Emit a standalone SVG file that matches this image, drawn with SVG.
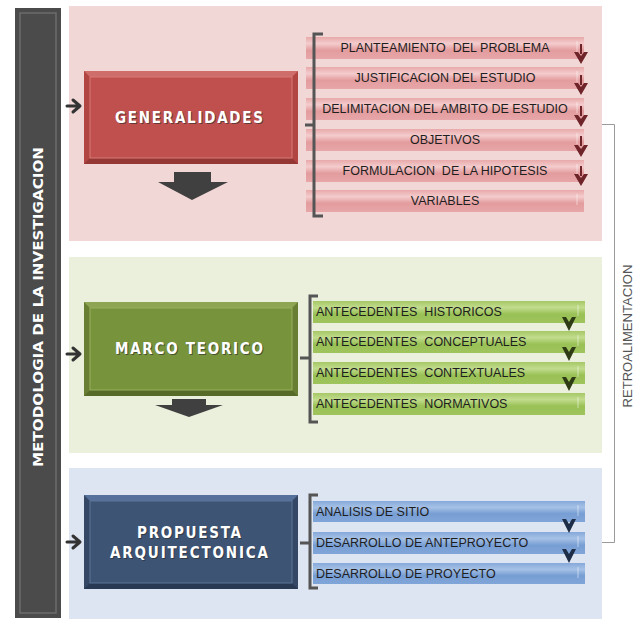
<svg xmlns="http://www.w3.org/2000/svg" width="640" height="619" viewBox="0 0 640 619">
<defs>
<linearGradient id="gPink" x1="0" y1="0" x2="0" y2="1">
<stop offset="0" stop-color="#e8a9aa"/><stop offset="0.3" stop-color="#f4cccd"/><stop offset="0.6" stop-color="#e39c9e"/><stop offset="1" stop-color="#e7a6a8"/>
</linearGradient>
<linearGradient id="gGreen" x1="0" y1="0" x2="0" y2="1">
<stop offset="0" stop-color="#a6c866"/><stop offset="0.3" stop-color="#c2dc8e"/><stop offset="0.6" stop-color="#99c155"/><stop offset="1" stop-color="#9fc45d"/>
</linearGradient>
<linearGradient id="gBlue" x1="0" y1="0" x2="0" y2="1">
<stop offset="0" stop-color="#86a9da"/><stop offset="0.3" stop-color="#a6c1e6"/><stop offset="0.6" stop-color="#779ed4"/><stop offset="1" stop-color="#80a5d8"/>
</linearGradient>
<style>
.item{font-family:"Liberation Sans",Arial,sans-serif;font-size:12.5px;fill:#1e1e1e;white-space:pre}
.c{text-anchor:middle}
.big{font-family:"DejaVu Sans Condensed","DejaVu Sans",sans-serif;font-weight:bold;font-size:15px;fill:#fff;text-anchor:middle}
.sh{fill:#2a2a2a;opacity:0.6}
.brk{fill:none;stroke:#555;stroke-width:3}
.chev{fill:none;stroke:#333;stroke-width:3;stroke-linecap:round;stroke-linejoin:round}
.tick{stroke:#fff;stroke-opacity:0.5;stroke-width:1}
.retro{fill:none;stroke:#9a9a9a;stroke-width:1}
</style>
</defs>
<rect width="640" height="619" fill="#fff"/>

<g id="side-bar">
<rect x="15" y="8" width="46" height="610" fill="#4b4b4b"/>
<rect x="20" y="13" width="36" height="600" fill="none" stroke="#6c6c6c" stroke-width="1.5"/>
<text transform="translate(43,307) rotate(-90)" font-family="'DejaVu Sans','Liberation Sans',sans-serif" font-weight="bold" font-size="14.5" fill="#fff" text-anchor="middle" textLength="320" lengthAdjust="spacingAndGlyphs">METODOLOGIA DE LA INVESTIGACION</text>
</g>

<g id="panels">
<rect x="69" y="6" width="533" height="235" fill="#f2d7d7"/>
<rect x="69" y="257" width="533" height="196" fill="#ebf0dc"/>
<rect x="69" y="468" width="533" height="151" fill="#dce5f1"/>
</g>

<g id="generalidades">
<rect x="84" y="71" width="214" height="93" fill="#b04542"/>
<polygon points="84,71 298,71 292,77 90,77" fill="#cf6d6a"/>
<polygon points="84,164 298,164 292,158 90,158" fill="#953735"/>
<rect x="90" y="77" width="202" height="81" fill="#c0504d" stroke="#d77b78" stroke-width="1"/>
<text class="big sh" x="190" y="124" textLength="148" lengthAdjust="spacing">GENERALIDADES</text>
<text class="big" x="189" y="123" textLength="148" lengthAdjust="spacing">GENERALIDADES</text>
</g>

<g id="marco-teorico">
<rect x="84" y="302" width="214" height="94" fill="#687f33"/>
<polygon points="84,302 298,302 292,308 90,308" fill="#8ea653"/>
<polygon points="84,396 298,396 292,390 90,390" fill="#566b28"/>
<rect x="90" y="308" width="202" height="82" fill="#77933c" stroke="#97b05e" stroke-width="1"/>
<text class="big sh" x="190" y="355" textLength="148" lengthAdjust="spacing">MARCO TEORICO</text>
<text class="big" x="189" y="354" textLength="148" lengthAdjust="spacing">MARCO TEORICO</text>
</g>

<g id="propuesta">
<rect x="84" y="495" width="214" height="94" fill="#344866"/>
<polygon points="84,495 298,495 292,501 90,501" fill="#55709a"/>
<polygon points="84,589 298,589 292,583 90,583" fill="#283954"/>
<rect x="90" y="501" width="202" height="82" fill="#3d5475" stroke="#5d7498" stroke-width="1"/>
<text class="big sh" x="190" y="539" textLength="104" lengthAdjust="spacing">PROPUESTA</text>
<text class="big" x="189" y="538" textLength="104" lengthAdjust="spacing">PROPUESTA</text>
<text class="big sh" x="190" y="559" textLength="158" lengthAdjust="spacing">ARQUITECTONICA</text>
<text class="big" x="189" y="558" textLength="158" lengthAdjust="spacing">ARQUITECTONICA</text>
</g>

<g id="generalidades-items">
<rect x="306" y="37" width="278" height="22" fill="url(#gPink)"/>
<rect x="306" y="67" width="278" height="22" fill="url(#gPink)"/>
<rect x="306" y="98" width="278" height="22" fill="url(#gPink)"/>
<rect x="306" y="129" width="278" height="22" fill="url(#gPink)"/>
<rect x="306" y="160" width="278" height="22" fill="url(#gPink)"/>
<rect x="306" y="190" width="278" height="22" fill="url(#gPink)"/>
<path class="tick" d="M577,41v11M577,71v11M577,102v11M577,133v11M577,164v11M577,194v11"/>
<text class="item c" x="445" y="52">PLANTEAMIENTO  DEL PROBLEMA</text>
<text class="item c" x="445" y="82">JUSTIFICACION DEL ESTUDIO</text>
<text class="item c" x="445" y="113">DELIMITACION DEL AMBITO DE ESTUDIO</text>
<text class="item c" x="445" y="144">OBJETIVOS</text>
<text class="item c" x="445" y="175">FORMULACION  DE LA HIPOTESIS</text>
<text class="item c" x="445" y="205">VARIABLES</text>
</g>

<g id="marco-items">
<rect x="313" y="301" width="272" height="22" fill="url(#gGreen)"/>
<rect x="313" y="331" width="272" height="22" fill="url(#gGreen)"/>
<rect x="313" y="362" width="272" height="22" fill="url(#gGreen)"/>
<rect x="313" y="393" width="272" height="22" fill="url(#gGreen)"/>
<path class="tick" d="M578,305v11M578,335v11M578,366v11M578,397v11"/>
<text class="item" x="316" y="316">ANTECEDENTES  HISTORICOS</text>
<text class="item" x="316" y="346">ANTECEDENTES  CONCEPTUALES</text>
<text class="item" x="316" y="377">ANTECEDENTES  CONTEXTUALES</text>
<text class="item" x="316" y="408">ANTECEDENTES  NORMATIVOS</text>
</g>

<g id="propuesta-items">
<rect x="313" y="501" width="272" height="21" fill="url(#gBlue)"/>
<rect x="313" y="532" width="272" height="22" fill="url(#gBlue)"/>
<rect x="313" y="563" width="272" height="21" fill="url(#gBlue)"/>
<path class="tick" d="M578,505v11M578,536v11M578,567v11"/>
<text class="item" x="316" y="516">ANALISIS DE SITIO</text>
<text class="item" x="316" y="547">DESARROLLO DE ANTEPROYECTO</text>
<text class="item" x="316" y="578">DESARROLLO DE PROYECTO</text>
</g>

<g id="retroalimentacion">
<text transform="translate(632,336) rotate(-90)" font-family="'Liberation Sans',Arial,sans-serif" font-size="12" fill="#555" text-anchor="middle" textLength="143" lengthAdjust="spacingAndGlyphs">RETROALIMENTACION</text>
</g>

<g id="connectors">
<path class="chev" d="M67,106H80M73,100L80,106L73,112"/>
<path class="chev" d="M67,354H80M73,348L80,354L73,360"/>
<path class="chev" d="M67,542H80M73,536L80,542L73,548"/>
<polygon points="174,172 211,172 211,182 228,182 192,200 158,182 174,182" fill="#404040"/>
<polygon points="172,399 206,399 206,405 223,405 189,417 155,405 172,405" fill="#404040"/>
<path class="brk" d="M323,34H314V216H323M314,125H305"/>
<path class="brk" d="M318,296H310V422H318M310,358H300"/>
<path class="brk" d="M318,495H310V588H318M310,543H300"/>
<g fill="#6e2428">
<path d="M580,44h2v10h-2z"/><path d="M574,52L578,52L581,56L584,52L588,52L581,64Z"/>
<path d="M580,75h2v10h-2z"/><path d="M574,83L578,83L581,87L584,83L588,83L581,95Z"/>
<path d="M580,106h2v10h-2z"/><path d="M574,115L578,115L581,119L584,115L588,115L581,127Z"/>
<path d="M580,136h2v10h-2z"/><path d="M574,145L578,145L581,149L584,145L588,145L581,157Z"/>
<path d="M580,166h2v10h-2z"/><path d="M574,174L578,174L581,178L584,174L588,174L581,186Z"/>
</g>
<g fill="#2e3b14">
<path d="M562,317L566,317L569,322L572,317L576,317L569,331Z"/>
<path d="M562,347L566,347L569,352L572,347L576,347L569,361Z"/>
<path d="M562,377L566,377L569,382L572,377L576,377L569,391Z"/>
</g>
<g fill="#1e2d48">
<path d="M562,519L566,519L569,524L572,519L576,519L569,533Z"/>
<path d="M562,549L566,549L569,554L572,549L576,549L569,563Z"/>
</g>
<path class="retro" d="M602,124.5H614.5V542.5H602"/>
</g>
</svg>
